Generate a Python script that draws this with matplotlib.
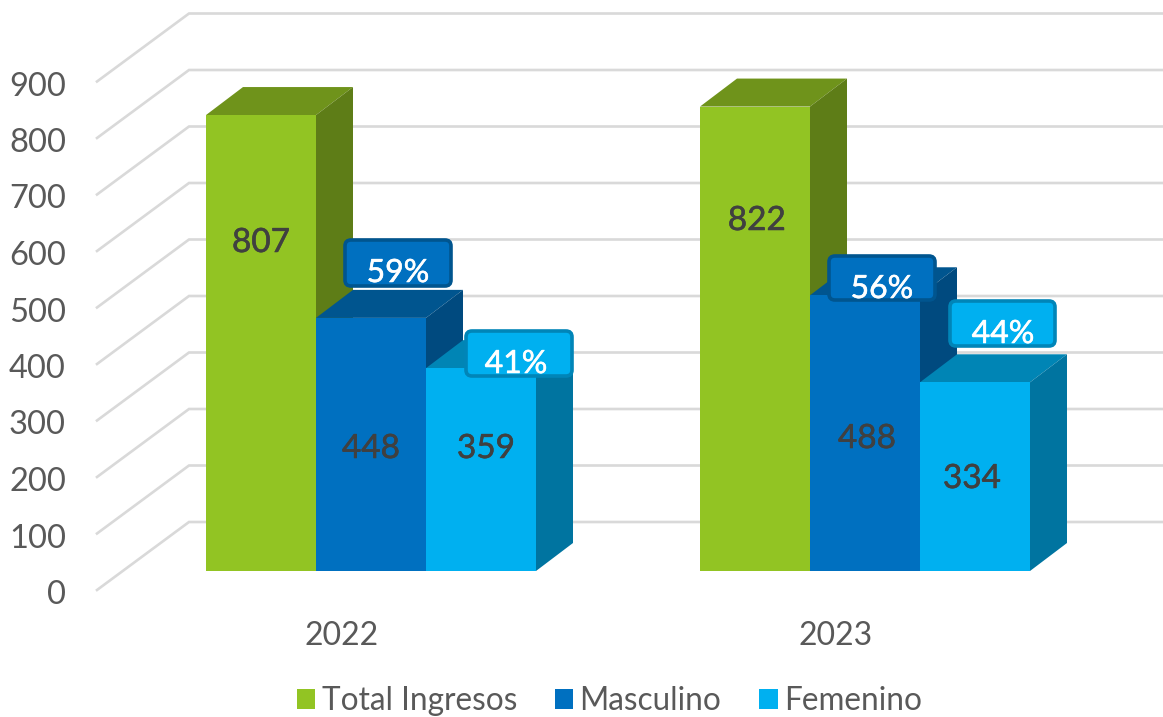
import matplotlib
matplotlib.use("Agg")
import matplotlib.pyplot as plt
import matplotlib.patheffects as pe
from matplotlib.patches import Polygon, Rectangle, FancyBboxPatch, Patch
from matplotlib.transforms import Affine2D

plt.rcParams['font.family'] = ['Lato', 'DejaVu Sans']

years = ["2022", "2023"]
series_names = ["Total Ingresos", "Masculino", "Femenino"]
total = [807, 822]
masculino = [448, 488]
femenino = [359, 334]
pct_masc = ["59%", "56%"]
pct_fem = ["41%", "44%"]
y_ticks = [0, 100, 200, 300, 400, 500, 600, 700, 800, 900]

# front, top, side colours of each series
front_cols = ["#92C423", "#0070C0", "#00B0F0"]
top_cols = ["#6F931B", "#00558F", "#0085B5"]
side_cols = ["#5E7D17", "#004A7F", "#0074A0"]
edge_cols = {"m": "#00558F", "f": "#0085B8"}
text_col = "#595959"
label_col = "#404040"
grid_col = "#D9D9D9"

W, H = 1163, 717
group_px = 494.0      # px between the two groups
unit_px = 0.565       # px per value unit
x0_px, y0_px = 371.0, 571.0
bar_w = 110.0 / group_px
depth_x = 37.0 / group_px
depth_y = 28.0 / unit_px

fig = plt.figure(figsize=(W / 100, H / 100), dpi=100)
ax = fig.add_axes([0, 0, 1, 1])
ax.set_xlim(-x0_px / group_px, (W - x0_px) / group_px)
ax.set_ylim(-(H - y0_px) / unit_px, y0_px / unit_px)
ax.axis("off")

# pixel coords, origin top left
px = Affine2D().scale(1, -1).translate(0, H)

# grid: slanted floor part then the back wall
grid_front_x = (97 - x0_px) / group_px
grid_back_x = (189 - x0_px) / group_px
front_shift = -19 / unit_px
back_shift = 49 / unit_px
for v in y_ticks:
    ax.plot([grid_front_x, grid_back_x, ax.get_xlim()[1]],
            [v + front_shift, v + back_shift, v + back_shift],
            color=grid_col, lw=1.9, zorder=1, solid_joinstyle="miter")
    ax.text(66, 595 - unit_px * v, str(v), transform=px, ha="right", va="center",
            fontsize=23.5, color=text_col)


def draw_bar(x, val, i):
    x1 = x + bar_w
    ax.add_patch(Polygon([(x, val), (x1, val), (x1 + depth_x, val + depth_y), (x + depth_x, val + depth_y)],
                         closed=True, fc=top_cols[i], ec="none", zorder=2))
    ax.add_patch(Polygon([(x1, 0), (x1 + depth_x, depth_y), (x1 + depth_x, val + depth_y), (x1, val)],
                         closed=True, fc=side_cols[i], ec="none", zorder=2))
    ax.add_patch(Rectangle((x, 0), bar_w, val, fc=front_cols[i], ec="none", zorder=2))


for g in range(2):
    for i, vals in enumerate([total, masculino, femenino]):
        draw_bar(g + (i - 1.5) * bar_w, vals[g], i)

# value labels
label_pos = [(261, 243), (371, 449), (486, 449), (757, 221), (867, 439), (972, 479)]
label_vals = [total[0], masculino[0], femenino[0], total[1], masculino[1], femenino[1]]
for (lx, ly), v in zip(label_pos, label_vals):
    ax.text(lx, ly, str(v), transform=px, ha="center", va="center", fontsize=24,
            color=label_col, zorder=5,
            path_effects=[pe.withStroke(linewidth=0.4, foreground=label_col)])

# callouts
boxes = [
    (343, 238, 110, 50, pct_masc[0], 398, 273, front_cols[1], edge_cols["m"]),
    (464, 329, 110, 49, pct_fem[0], 516, 364, front_cols[2], edge_cols["f"]),
    (827, 254, 110, 48, pct_masc[1], 882, 289, front_cols[1], edge_cols["m"]),
    (948, 299, 109, 49, pct_fem[1], 1003, 334, front_cols[2], edge_cols["f"]),
]
for bx, by, bw, bh, txt, tx, ty, fc, ec in boxes:
    ax.add_patch(FancyBboxPatch((bx + 8, by + 8), bw - 16, bh - 16, boxstyle="round,pad=6,rounding_size=6",
                                fc=fc, ec=ec, lw=2.6, transform=px, zorder=4))
    ax.text(tx, ty, txt, transform=px, ha="center", va="center", fontsize=23,
            color="white", zorder=5,
            path_effects=[pe.withStroke(linewidth=0.4, foreground="white")])

# year labels
for label, lx in zip(years, [342, 836]):
    ax.text(lx, 636, label, transform=px, ha="center", va="center", fontsize=23, color=text_col)

handles = [Patch(fc=c, ec="none", label=n) for c, n in zip(front_cols, series_names)]
ax.legend(handles=handles, ncol=3, frameon=False, fontsize=22.7, labelcolor=text_col,
          loc="center", bbox_to_anchor=(609.5, 701), bbox_transform=px,
          handlelength=0.58, handleheight=0.58, handletextpad=0.2, columnspacing=1.2,
          borderpad=0, borderaxespad=0)

fig.savefig("out.png", dpi=100)
